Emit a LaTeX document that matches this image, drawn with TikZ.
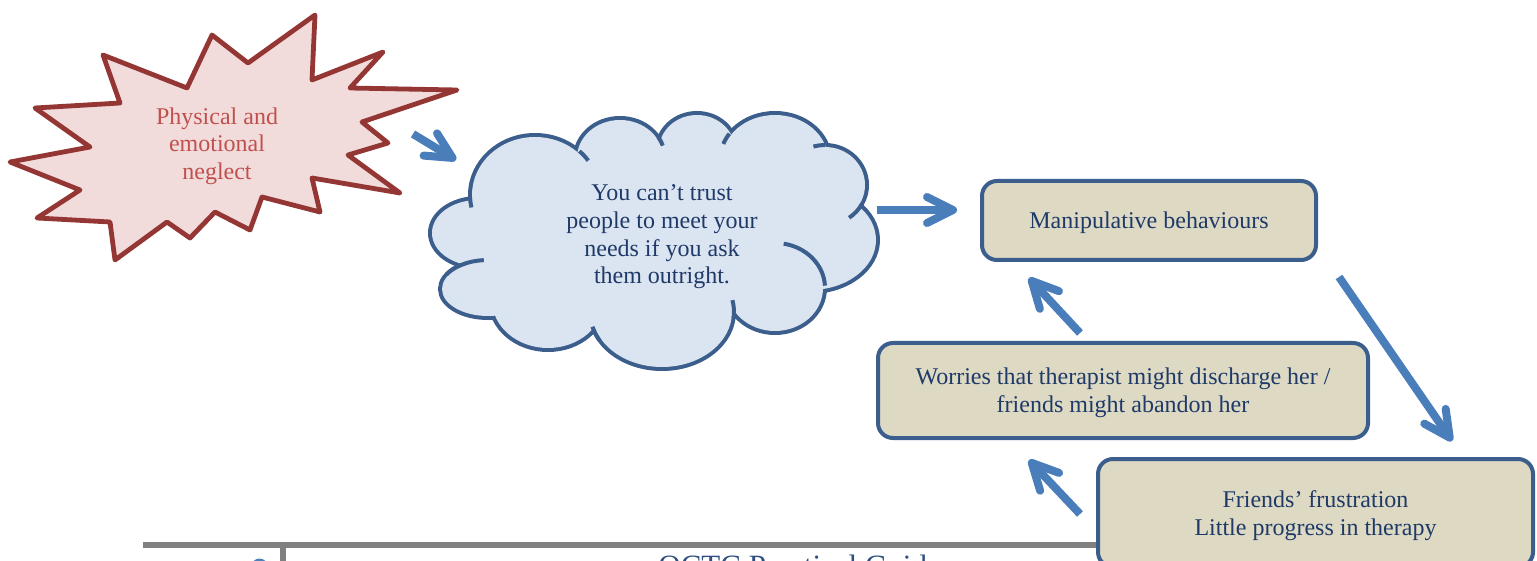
\documentclass[tikz,border=0pt]{standalone}
\usepackage{fontspec}
\setmainfont{Liberation Serif}
\usetikzlibrary{arrows.meta}
\definecolor{arrowblue}{HTML}{4A7EBB}
\definecolor{boxline}{HTML}{3B5E8C}
\definecolor{boxfill}{HTML}{DDD9C3}
\definecolor{boxtext}{HTML}{1F3A68}
\definecolor{cloudfill}{HTML}{DBE5F1}
\definecolor{starline}{HTML}{943634}
\definecolor{starfill}{HTML}{F2DCDB}
\definecolor{startext}{HTML}{C0504D}
\definecolor{footgray}{HTML}{808080}
\definecolor{footblue}{HTML}{4F81BD}
\definecolor{foottext}{HTML}{2F4F80}
\newcommand{\lowerfirst}{\rule{0pt}{10.8pt}}
\begin{document}
\begin{tikzpicture}[x=0.5pt,y=-0.5pt,
  flow/.style={line width=4pt, draw=arrowblue, -{Straight Barb[length=13pt,width=13pt,round]}},
  stepbox/.style={draw=boxline, fill=boxfill, line width=2pt, rounded corners=7.5pt,
    text=boxtext, align=center, inner sep=0pt, font=\fontsize{12}{13.8}\selectfont},
  bodytext/.style={align=center, inner sep=0pt, font=\fontsize{12}{13.8}\selectfont},
  cloudedge/.style={draw=boxline, line width=4pt, fill=cloudfill},
  cloudarc/.style={draw=boxline, line width=2pt},
  starshape/.style={draw=starline, fill=starfill, line width=2.4pt, line join=round}]
\path[use as bounding box, clip] (0,0) rectangle (1537,561);

% footer
\draw[footgray, line width=3pt] (143,545) -- (1250,545);
\draw[footgray, line width=3pt] (283,546.5) -- (283,570);
\fill[footblue] (259.5,566.5) circle (8);
\node[anchor=base west, inner sep=0pt, text=foottext, font=\fontsize{15.5}{18}\selectfont] (footer) at (658,576) {OCTC Practical Guide};

% star
\draw[starshape] (315,15) -- (312,80) -- (383,52) -- (350,88) -- (457,90) -- (362,122)
  -- (388,143) -- (348,155) -- (400,193) -- (312,178) -- (320,212) -- (262,197)
  -- (250,230) -- (215,212) -- (190,238) -- (167,222) -- (115,260) -- (110,222)
  -- (37,218) -- (80,190) -- (10,162) -- (90,147) -- (35,108) -- (120,103)
  -- (103,55) -- (187,88) -- (212,35) -- (248,63) -- cycle;
\node[bodytext, text=startext] (neglect) at (217,146) {Physical and\\emotional\\neglect};

% cloud
\foreach \cx/\cy/\rx/\ry in {535/195/65/60, 620/158/45/40, 697/150/40/37, 775/160/55/47,
  825/185/42/40, 810/240/68/52, 775/288/50/45, 662/312/72/57, 548/300/58/50,
  488/289/48/29, 478/233/48/35}
  {\path[cloudedge] (\cx,\cy) ellipse[x radius=\rx-2, y radius=\ry-2];}
\foreach \cx/\cy/\rx/\ry in {535/195/65/60, 620/158/45/40, 697/150/40/37, 775/160/55/47,
  825/185/42/40, 810/240/68/52, 775/288/50/45, 662/312/72/57, 548/300/58/50,
  488/289/48/29, 478/233/48/35, 655/240/175/78}
  {\fill[cloudfill] (\cx,\cy) ellipse[x radius=\rx-2, y radius=\ry-2];}
% inner arcs of the cloud
\foreach \cx/\cy/\rx/\ry/\a/\b in {775/288/50/45/-80/-3, 825/185/42/40/28/55,
  488/289/48/29/-150/-95, 535/195/65/60/-47/-35, 535/195/65/60/178/168,
  620/158/45/40/-32/-18, 775/160/55/47/-146/-160, 825/185/42/40/-90/-106,
  662/312/72/57/6/-12, 662/312/72/57/150/165}
  {\draw[cloudarc] ({\cx+\rx*cos(\a)},{\cy+\ry*sin(\a)}) arc[start angle=\a, end angle=\b, x radius=\rx, y radius=\ry];}
\node[bodytext, text=boxtext] (belief) at (662,237) {You can’t trust\\people to meet your\\needs if you ask\\them outright.};

% boxes
\node[stepbox, minimum width=167pt, minimum height=39.5pt] (manip) at (1149,220.5) {\lowerfirst Manipulative behaviours};
\node[stepbox, minimum width=245pt, minimum height=47.5pt] (worries) at (1123,390.5) {\lowerfirst Worries that therapist might discharge her /\\friends might abandon her};
\node[stepbox, minimum width=217.5pt, minimum height=54pt] (friends) at (1315.5,513) {\lowerfirst Friends’ frustration\\Little progress in therapy};

% arrows
\coordinate (a1s) at (413,134);
\coordinate (a1e) at (456,160);
\coordinate (a2s) at (877,210);
\coordinate (a2e) at (957,210);
\coordinate (a3s) at (1339,277);
\coordinate (a3e) at (1452,441);
\coordinate (a4s) at (1080,514);
\coordinate (a4e) at (1029,460);
\coordinate (a5s) at (1080,333);
\coordinate (a5e) at (1029,278);
\draw[flow] (a1s) -- (a1e);
\draw[flow] (a2s) -- (a2e);
\draw[flow] (a3s) -- (a3e);
\draw[flow] (a4s) -- (a4e);
\draw[flow] (a5s) -- (a5e);
\end{tikzpicture}
\end{document}
